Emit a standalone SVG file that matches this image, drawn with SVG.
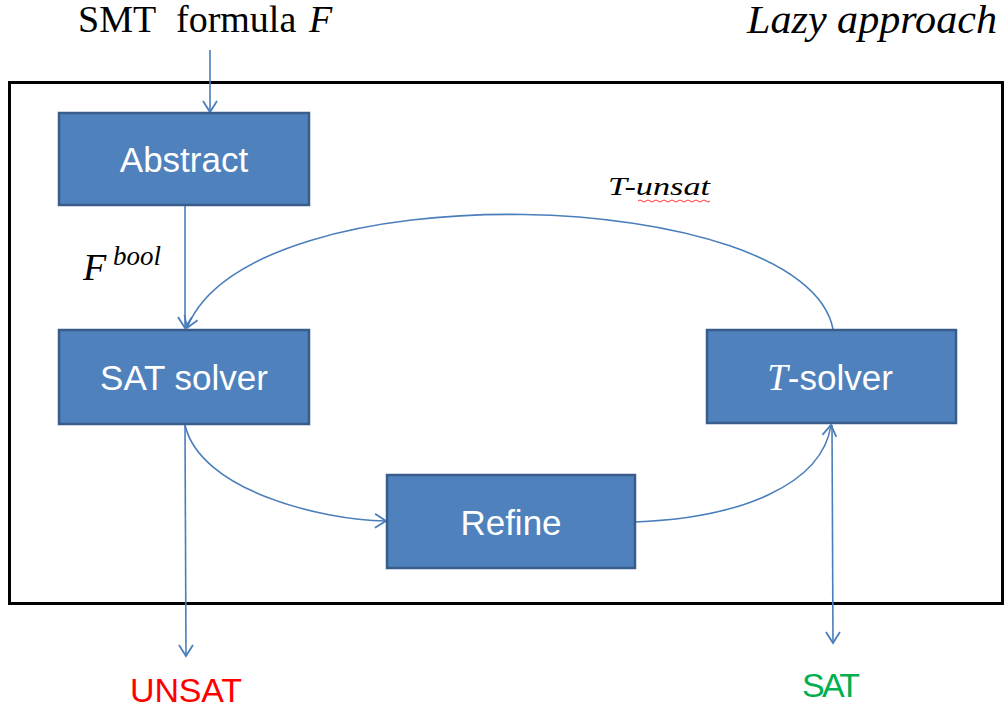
<svg xmlns="http://www.w3.org/2000/svg" width="1006" height="713" viewBox="0 0 1006 713">
<style>
.box{fill:#4f81bd;stroke:#385d8a;stroke-width:2.5}
.lbl{font-family:"Liberation Sans",Arial,sans-serif;font-size:35px;fill:#ffffff;text-anchor:middle}
.serif{font-family:"Liberation Serif","Times New Roman",serif;fill:#000}
.it{font-style:italic}
.con{fill:none;stroke:#4a7ebb;stroke-width:1.6}
</style>
<defs>
<marker id="arr" markerUnits="userSpaceOnUse" markerWidth="20" markerHeight="20" viewBox="0 0 20 20" refX="15" refY="10" orient="auto">
<path d="M4,3 L15,10 L4,17" fill="none" stroke="#4a7ebb" stroke-width="1.8"/>
</marker>
</defs>
<rect width="1006" height="713" fill="#ffffff"/>
<rect id="frame" x="9.5" y="82.5" width="993" height="521" fill="none" stroke="#000" stroke-width="3"/>
<text class="serif" x="78" y="32" font-size="38">SMT</text>
<text class="serif" x="176" y="32" font-size="38">formula</text>
<text class="serif it" x="309" y="32" font-size="38">F</text>
<text class="serif it" x="747" y="33" font-size="39" textLength="250" lengthAdjust="spacingAndGlyphs">Lazy approach</text>
<g id="connectors">
<line class="con" x1="210" y1="50" x2="210" y2="112" marker-end="url(#arr)"/>
<line class="con" x1="185" y1="205" x2="185" y2="328" marker-end="url(#arr)"/>
<path class="con" d="M833,329 C805,185 250,168 187,328" marker-end="url(#arr)"/>
<path class="con" d="M185,425 C200,490 320,520 386,521" marker-end="url(#arr)"/>
<path class="con" d="M635,522 C740,518 822,485 831,425" marker-end="url(#arr)"/>
<line class="con" x1="185" y1="425" x2="186" y2="656" marker-end="url(#arr)"/>
<line class="con" x1="832" y1="425" x2="833" y2="643" marker-end="url(#arr)"/>
</g>
<g id="abstract">
<rect class="box" x="59" y="113" width="250" height="92"/>
<text class="lbl" x="184" y="172">Abstract</text>
</g>
<g id="sat-solver">
<rect class="box" x="59" y="330" width="250" height="94"/>
<text class="lbl" x="184" y="390">SAT solver</text>
</g>
<g id="t-solver">
<rect class="box" x="707" y="330" width="249" height="93"/>
<text x="830" y="390" text-anchor="middle" font-size="35" fill="#fff"><tspan font-family="Liberation Serif,serif" font-style="italic" font-size="37">T</tspan><tspan font-family="Liberation Sans,Arial,sans-serif">-solver</tspan></text>
</g>
<g id="refine">
<rect class="box" x="387" y="475" width="248" height="93"/>
<text class="lbl" x="511" y="535">Refine</text>
</g>
<g id="labels">
<text class="serif it" x="83" y="280" font-size="38">F</text>
<text class="serif it" x="113" y="265" font-size="27">bool</text>
<text class="serif it" x="608" y="195" font-size="25" textLength="102" lengthAdjust="spacingAndGlyphs">T-unsat</text>
<path d="M638,201 q2,-2 4,0 t4,0 t4,0 t4,0 t4,0 t4,0 t4,0 t4,0 t4,0 t4,0 t4,0 t4,0 t4,0 t4,0 t4,0 t4,0 t4,0 t4,0" fill="none" stroke="#ff3030" stroke-width="1"/>
<text x="186" y="702" text-anchor="middle" font-family="Liberation Sans,Arial,sans-serif" font-size="34" fill="#ff0000" textLength="112">UNSAT</text>
<text x="831" y="697" text-anchor="middle" font-family="Liberation Sans,Arial,sans-serif" font-size="34" fill="#00b050" textLength="58">SAT</text>
</g>
</svg>
